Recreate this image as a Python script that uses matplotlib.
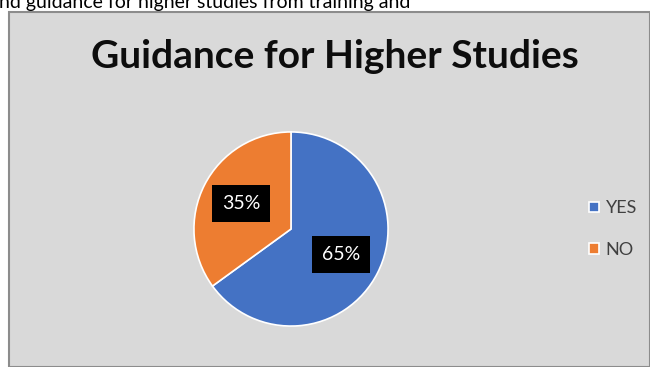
import matplotlib
matplotlib.use("Agg")
import matplotlib.pyplot as plt
from matplotlib.patches import Rectangle

# data
labels = ["YES", "NO"]
shares = [65, 35]
colors = ["#4472C4", "#ED7D31"]
title = "Guidance for Higher Studies"
caption = "nd guidance for higher studies from training and"

plt.rcParams['font.family'] = ['Lato', 'DejaVu Sans']

W, H = 650, 367
fig = plt.figure(figsize=(W / 100, H / 100), dpi=100)
fig.patch.set_facecolor("white")

# chart area box (behind everything)
fig.patches.append(Rectangle((9 / W, 0), 1 - 9 / W, 1 - 12 / H,
                             transform=fig.transFigure, facecolor="#D9D9D9",
                             edgecolor="#8C8C8C", linewidth=1.5, zorder=-10))

# text of the page above the chart, cut at the top
fig.text(-1 / W, 1 - 8 / H, caption, fontsize=14, color="black",
         ha="left", va="baseline")

fig.text(335 / W, 1 - 68 / H, title, fontsize=28, fontweight="bold",
         color="#0D0D0D", ha="center", va="baseline")

# pie
cx, cy, r = 291, 229, 99
ax = fig.add_axes([(cx - r) / W, (H - cy - r) / H, 2 * r / W, 2 * r / H])
wedges, _, autotexts = ax.pie(shares, colors=colors, startangle=90, counterclock=False,
                              autopct="%d%%", pctdistance=0.58,
                              wedgeprops=dict(edgecolor="white", linewidth=1.2),
                              textprops=dict(color="white", fontsize=14))
for t in autotexts:
    t.set_bbox(dict(facecolor="black", edgecolor="none", pad=7))
ax.set_xlim(-1.02, 1.02)
ax.set_ylim(-1.02, 1.02)
ax.set_aspect("equal")
ax.axis("off")

leg = fig.legend(wedges, labels, loc="center left",
                 bbox_to_anchor=(573 / W, 1 - 229 / H), frameon=False,
                 fontsize=13, handlelength=0.55, handleheight=0.55,
                 handletextpad=0.35, labelspacing=1.4)
for t in leg.get_texts():
    t.set_color("#404040")

fig.savefig("out.png", dpi=100, facecolor=fig.get_facecolor())
